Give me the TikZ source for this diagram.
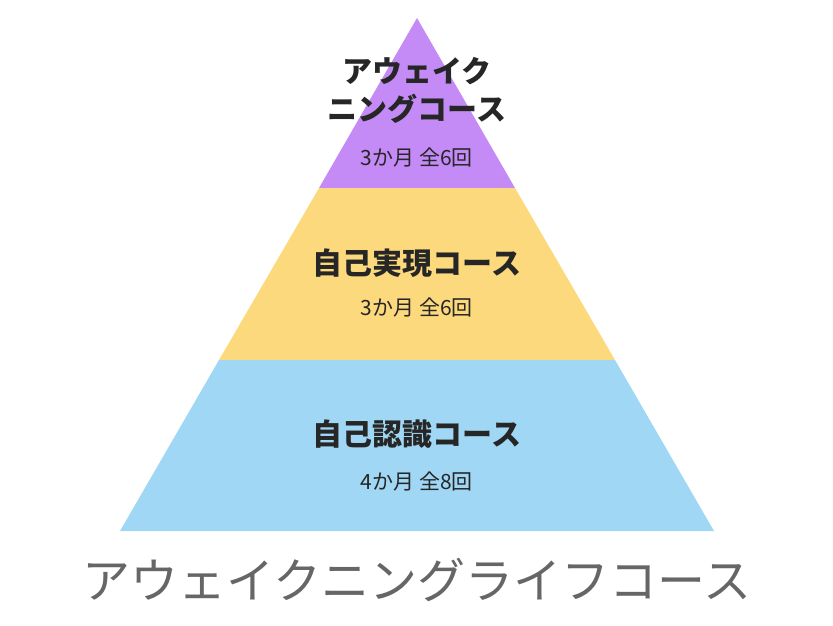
\documentclass[tikz,border=0pt]{standalone}
\usepackage{fontspec}
\newfontfamily\cjk{Noto Sans CJK JP}
\begin{document}
\begin{tikzpicture}[x=1pt,y=-1pt,
  head/.style={font=\cjk\bfseries\fontsize{30}{38}\selectfont,text=black!85,align=center},
  sub/.style={font=\cjk\fontsize{21}{25}\selectfont,text=black!85},
  ttl/.style={font=\cjk\fontsize{48}{56}\selectfont,text=black!60}]
\useasboundingbox (0,0) rectangle (833,625);
\definecolor{cpur}{HTML}{C48AF6}
\definecolor{cyel}{HTML}{FDD97D}
\definecolor{cblu}{HTML}{A0D7F4}
\fill[cpur] (417,18) -- (515,188) -- (319,188) -- cycle;
\fill[cyel] (319,188) -- (515,188) -- (615,360) -- (219,360) -- cycle;
\fill[cblu] (219,360) -- (615,360) -- (714,531) -- (120,531) -- cycle;
\node[head] (h1) at (417,90) {アウェイク\\ニングコース};
\node[sub] (s1) at (417,158) {3か月 全6回};
\node[head] (h2) at (417,263) {自己実現コース};
\node[sub] (s2) at (417,308) {3か月 全6回};
\node[head] (h3) at (417,434) {自己認識コース};
\node[sub] (s3) at (417,481) {4か月 全8回};
\node[ttl] (t) at (417,580) {アウェイクニングライフコース};
\end{tikzpicture}
\end{document}
